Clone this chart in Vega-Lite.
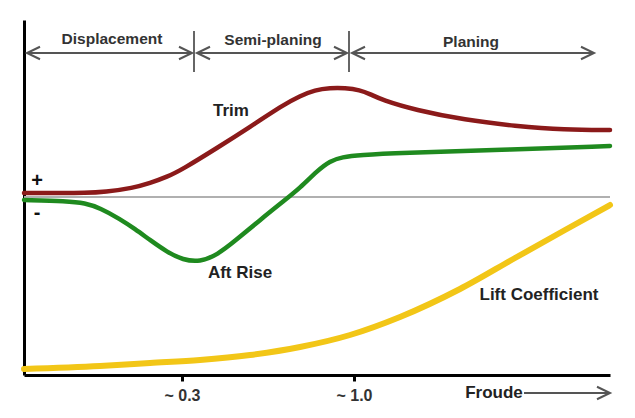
{
  "$schema": "https://vega.github.io/schema/vega-lite/v6.json",
  "width": 586,
  "height": 355,
  "autosize": "none",
  "padding": {"left": 24, "top": 20, "right": 25, "bottom": 43},
  "background": "white",
  "config": {"view": {"stroke": null}, "font": "Liberation Sans"},
  "datasets": {
    "trim": [
      {"x": 0, "y": 4}, {"x": 36, "y": 4}, {"x": 61, "y": 4}, {"x": 81, "y": 5}, {"x": 109, "y": 9},
      {"x": 126, "y": 14}, {"x": 143, "y": 20}, {"x": 159, "y": 28}, {"x": 193, "y": 49}, {"x": 226, "y": 70},
      {"x": 259, "y": 92}, {"x": 276, "y": 101}, {"x": 291, "y": 107}, {"x": 306, "y": 109}, {"x": 321, "y": 109},
      {"x": 336, "y": 107}, {"x": 346, "y": 103}, {"x": 358, "y": 97}, {"x": 391, "y": 87}, {"x": 441, "y": 77},
      {"x": 491, "y": 71}, {"x": 541, "y": 67}, {"x": 586, "y": 67}
    ],
    "aft": [
      {"x": 0, "y": -3}, {"x": 43, "y": -4}, {"x": 61, "y": -6}, {"x": 76, "y": -11}, {"x": 96, "y": -22},
      {"x": 111, "y": -32}, {"x": 126, "y": -43}, {"x": 143, "y": -55}, {"x": 159, "y": -63}, {"x": 176, "y": -65},
      {"x": 193, "y": -58}, {"x": 211, "y": -44}, {"x": 236, "y": -23}, {"x": 261, "y": -3}, {"x": 276, "y": 9},
      {"x": 293, "y": 26}, {"x": 306, "y": 36}, {"x": 318, "y": 40}, {"x": 336, "y": 42}, {"x": 376, "y": 44},
      {"x": 476, "y": 47}, {"x": 586, "y": 51}
    ],
    "lift": [
      {"x": 0, "y": -172}, {"x": 76, "y": -169}, {"x": 126, "y": -166}, {"x": 176, "y": -163}, {"x": 226, "y": -158},
      {"x": 276, "y": -150}, {"x": 326, "y": -138}, {"x": 376, "y": -120}, {"x": 436, "y": -92}, {"x": 491, "y": -61},
      {"x": 541, "y": -33}, {"x": 586, "y": -8}
    ],
    "zero": [{"x": 0, "x2": 586, "y": 0}],
    "dividers": [{"x": 170, "y": 125, "y2": 166}, {"x": 325, "y": 125, "y2": 166}],
    "arrows": [
      {"x": 3, "x2": 168, "y": 144},
      {"x": 173, "x2": 323, "y": 144},
      {"x": 328, "x2": 570, "y": 144},
      {"x": 500, "x2": 586, "y": -196}
    ],
    "heads": [
      {"x": 3, "y": 144, "dir": "left"}, {"x": 168, "y": 144, "dir": "right"},
      {"x": 173, "y": 144, "dir": "left"}, {"x": 323, "y": 144, "dir": "right"},
      {"x": 328, "y": 144, "dir": "left"}, {"x": 570, "y": 144, "dir": "right"},
      {"x": 586, "y": -196, "dir": "right"}
    ],
    "regions": [
      {"x": 88, "y": 158, "t": "Displacement"},
      {"x": 249, "y": 157, "t": "Semi-planing"},
      {"x": 447, "y": 155, "t": "Planing"}
    ],
    "curveLabels": [
      {"x": 207, "y": 86, "t": "Trim"},
      {"x": 216, "y": -76, "t": "Aft Rise"},
      {"x": 515, "y": -98, "t": "Lift Coefficient"},
      {"x": 470, "y": -196, "t": "Froude"}
    ],
    "signs": [
      {"x": 13, "y": 16, "t": "+"},
      {"x": 13, "y": -16, "t": "-"}
    ]
  },
  "encoding": {
    "x": {
      "field": "x", "type": "quantitative",
      "scale": {"domain": [0, 586], "nice": false, "zero": false},
      "axis": {
        "title": null, "values": [158, 330], "grid": false,
        "labelExpr": "datum.value < 200 ? '~ 0.3' : '~ 1.0'",
        "domainColor": "black", "domainWidth": 3,
        "tickColor": "black", "tickWidth": 3, "tickSize": 6,
        "labelFont": "Liberation Sans", "labelFontWeight": "bold", "labelFontSize": 16,
        "labelColor": "#333", "labelPadding": 6, "labelDx": -10, "labelFlush": false
      }
    },
    "y": {
      "field": "y", "type": "quantitative",
      "scale": {"domain": [-178, 177], "nice": false, "zero": false},
      "axis": {"title": null, "labels": false, "ticks": false, "grid": false, "domainColor": "black", "domainWidth": 3}
    }
  },
  "layer": [
    {
      "data": {"name": "zero"},
      "mark": {"type": "rule", "color": "#b0b0b0", "strokeWidth": 2},
      "encoding": {"x2": {"field": "x2"}}
    },
    {
      "data": {"name": "dividers"},
      "mark": {"type": "rule", "color": "#666", "strokeWidth": 2},
      "encoding": {"y2": {"field": "y2"}}
    },
    {
      "data": {"name": "arrows"},
      "mark": {"type": "rule", "color": "#555", "strokeWidth": 2, "clip": false},
      "encoding": {"x2": {"field": "x2"}}
    },
    {
      "data": {"name": "heads"},
      "mark": {"type": "point", "filled": false, "color": "#555", "strokeWidth": 2, "opacity": 1, "size": 676, "clip": false},
      "encoding": {
        "shape": {
          "field": "dir", "type": "nominal", "legend": null,
          "scale": {"domain": ["left", "right"], "range": ["M1,-0.48L0,0L1,0.48", "M-1,-0.48L0,0L-1,0.48"]}
        }
      }
    },
    {
      "data": {"name": "lift"},
      "mark": {"type": "line", "color": "#F2C617", "strokeWidth": 6, "interpolate": "monotone", "strokeCap": "round"},
      "encoding": {}
    },
    {
      "data": {"name": "aft"},
      "mark": {"type": "line", "color": "#1F8A1F", "strokeWidth": 4.5, "interpolate": "basis", "strokeCap": "round"},
      "encoding": {}
    },
    {
      "data": {"name": "trim"},
      "mark": {"type": "line", "color": "#8B1A1A", "strokeWidth": 4.5, "interpolate": "basis", "strokeCap": "round"},
      "encoding": {}
    },
    {
      "data": {"name": "regions"},
      "mark": {"type": "text", "font": "Liberation Sans", "fontWeight": "bold", "fontSize": 15.5, "color": "#333", "align": "center", "baseline": "middle"},
      "encoding": {"text": {"field": "t"}}
    },
    {
      "data": {"name": "curveLabels"},
      "mark": {"type": "text", "font": "Liberation Sans", "fontWeight": "bold", "fontSize": 17, "color": "#222", "align": "center", "baseline": "middle", "clip": false},
      "encoding": {"text": {"field": "t"}}
    },
    {
      "data": {"name": "signs"},
      "mark": {"type": "text", "font": "Liberation Sans", "fontWeight": "bold", "fontSize": 20, "color": "#111", "align": "center", "baseline": "middle"},
      "encoding": {"text": {"field": "t"}}
    }
  ]
}
